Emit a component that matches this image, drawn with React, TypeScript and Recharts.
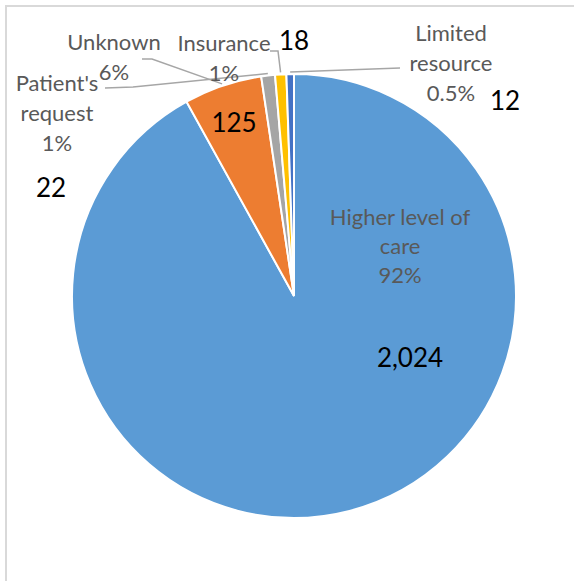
import React from 'react'
import { PieChart, Pie, Cell } from 'recharts'

const categories = ['Higher level of care', 'Unknown', "Patient's request", 'Insurance', 'Limited resource']
const counts = [2024, 125, 22, 18, 12]
const percentLabels = ['92%', '6%', '1%', '1%', '0.5%']
const nameLines = [['Higher level of', 'care'], ['Unknown'], ["Patient's", 'request'], ['Insurance'], ['Limited', 'resource']]
const valueLabels = ['2,024', '125', '22', '18', '12']
const colors = ['#5B9BD5', '#ED7D31', '#A5A5A5', '#FFC000', '#4472C4']

// label placement, offsets from the pie centre (Excel labels were dragged by hand)
const layout = [
  { name: [106, -80], lh: 29, value: [116, 61], leader: [] as number[][] },
  { name: [-180, -255], lh: 30, value: [-60, -174], leader: [[-152, -237], [-142, -237]] },
  { name: [-237, -214], lh: 30, value: [-243, -109], leader: [[-189, -208], [-161, -209]] },
  { name: [-70, -254], lh: 30, value: [0, -256], leader: [[-24, -245], [-16, -245]] },
  { name: [157, -264], lh: 30, value: [211, -196], leader: [[106, -228]] },
]

const data = categories.map((name, i) => ({ name, value: counts[i] }))

const FONT = 'Lato, "Open Sans", sans-serif'
const RADIAN = Math.PI / 180

function renderLabel(props: any) {
  const { cx, cy, midAngle, outerRadius, index } = props
  const l = layout[index]
  const lines = [...nameLines[index], percentLabels[index]]
  const r = outerRadius + 2
  const px = cx + r * Math.cos(-midAngle * RADIAN)
  const py = cy + r * Math.sin(-midAngle * RADIAN)
  const pts = l.leader.map(([dx, dy]) => `${cx + dx},${cy + dy}`)
  return (
    <g key={`lbl-${index}`}>
      {pts.length > 0 && (
        <polyline points={[...pts, `${px},${py}`].join(' ')} fill="none" stroke="#A6A6A6" strokeWidth={1.5} />
      )}
      {lines.map((t, k) => (
        <text
          key={k}
          x={cx + l.name[0]}
          y={cy + l.name[1] + k * l.lh}
          textAnchor="middle"
          dominantBaseline="central"
          fill="#595959"
          fontSize={22}
          fontFamily={FONT}
        >
          {t}
        </text>
      ))}
      <text
        x={cx + l.value[0]}
        y={cy + l.value[1]}
        textAnchor="middle"
        dominantBaseline="central"
        fill="#000"
        fontSize={26}
        fontFamily={FONT}
      >
        {valueLabels[index]}
      </text>
    </g>
  )
}

export default function App() {
  return (
    <div style={{ position: 'absolute', left: 0, top: 0, width: 574, height: 581, background: '#fff', overflow: 'hidden' }}>
      <div
        style={{
          position: 'absolute',
          left: 5,
          top: 5,
          width: 600,
          height: 600,
          borderTop: '2px solid #D9D9D9',
          borderLeft: '2px solid #D9D9D9',
        }}
      />
      <div style={{ position: 'absolute', left: 0, top: 0 }}>
        <PieChart width={574} height={581} margin={{ top: 0, right: 0, bottom: 0, left: 0 }}>
          <Pie
            data={data}
            dataKey="value"
            nameKey="name"
            cx={294}
            cy={296}
            outerRadius={222}
            startAngle={90}
            endAngle={-270}
            stroke="#fff"
            strokeWidth={2}
            label={renderLabel}
            labelLine={false}
            isAnimationActive={false}
          >
            {data.map((d, i) => (
              <Cell key={d.name} fill={colors[i]} />
            ))}
          </Pie>
        </PieChart>
      </div>
    </div>
  )
}
